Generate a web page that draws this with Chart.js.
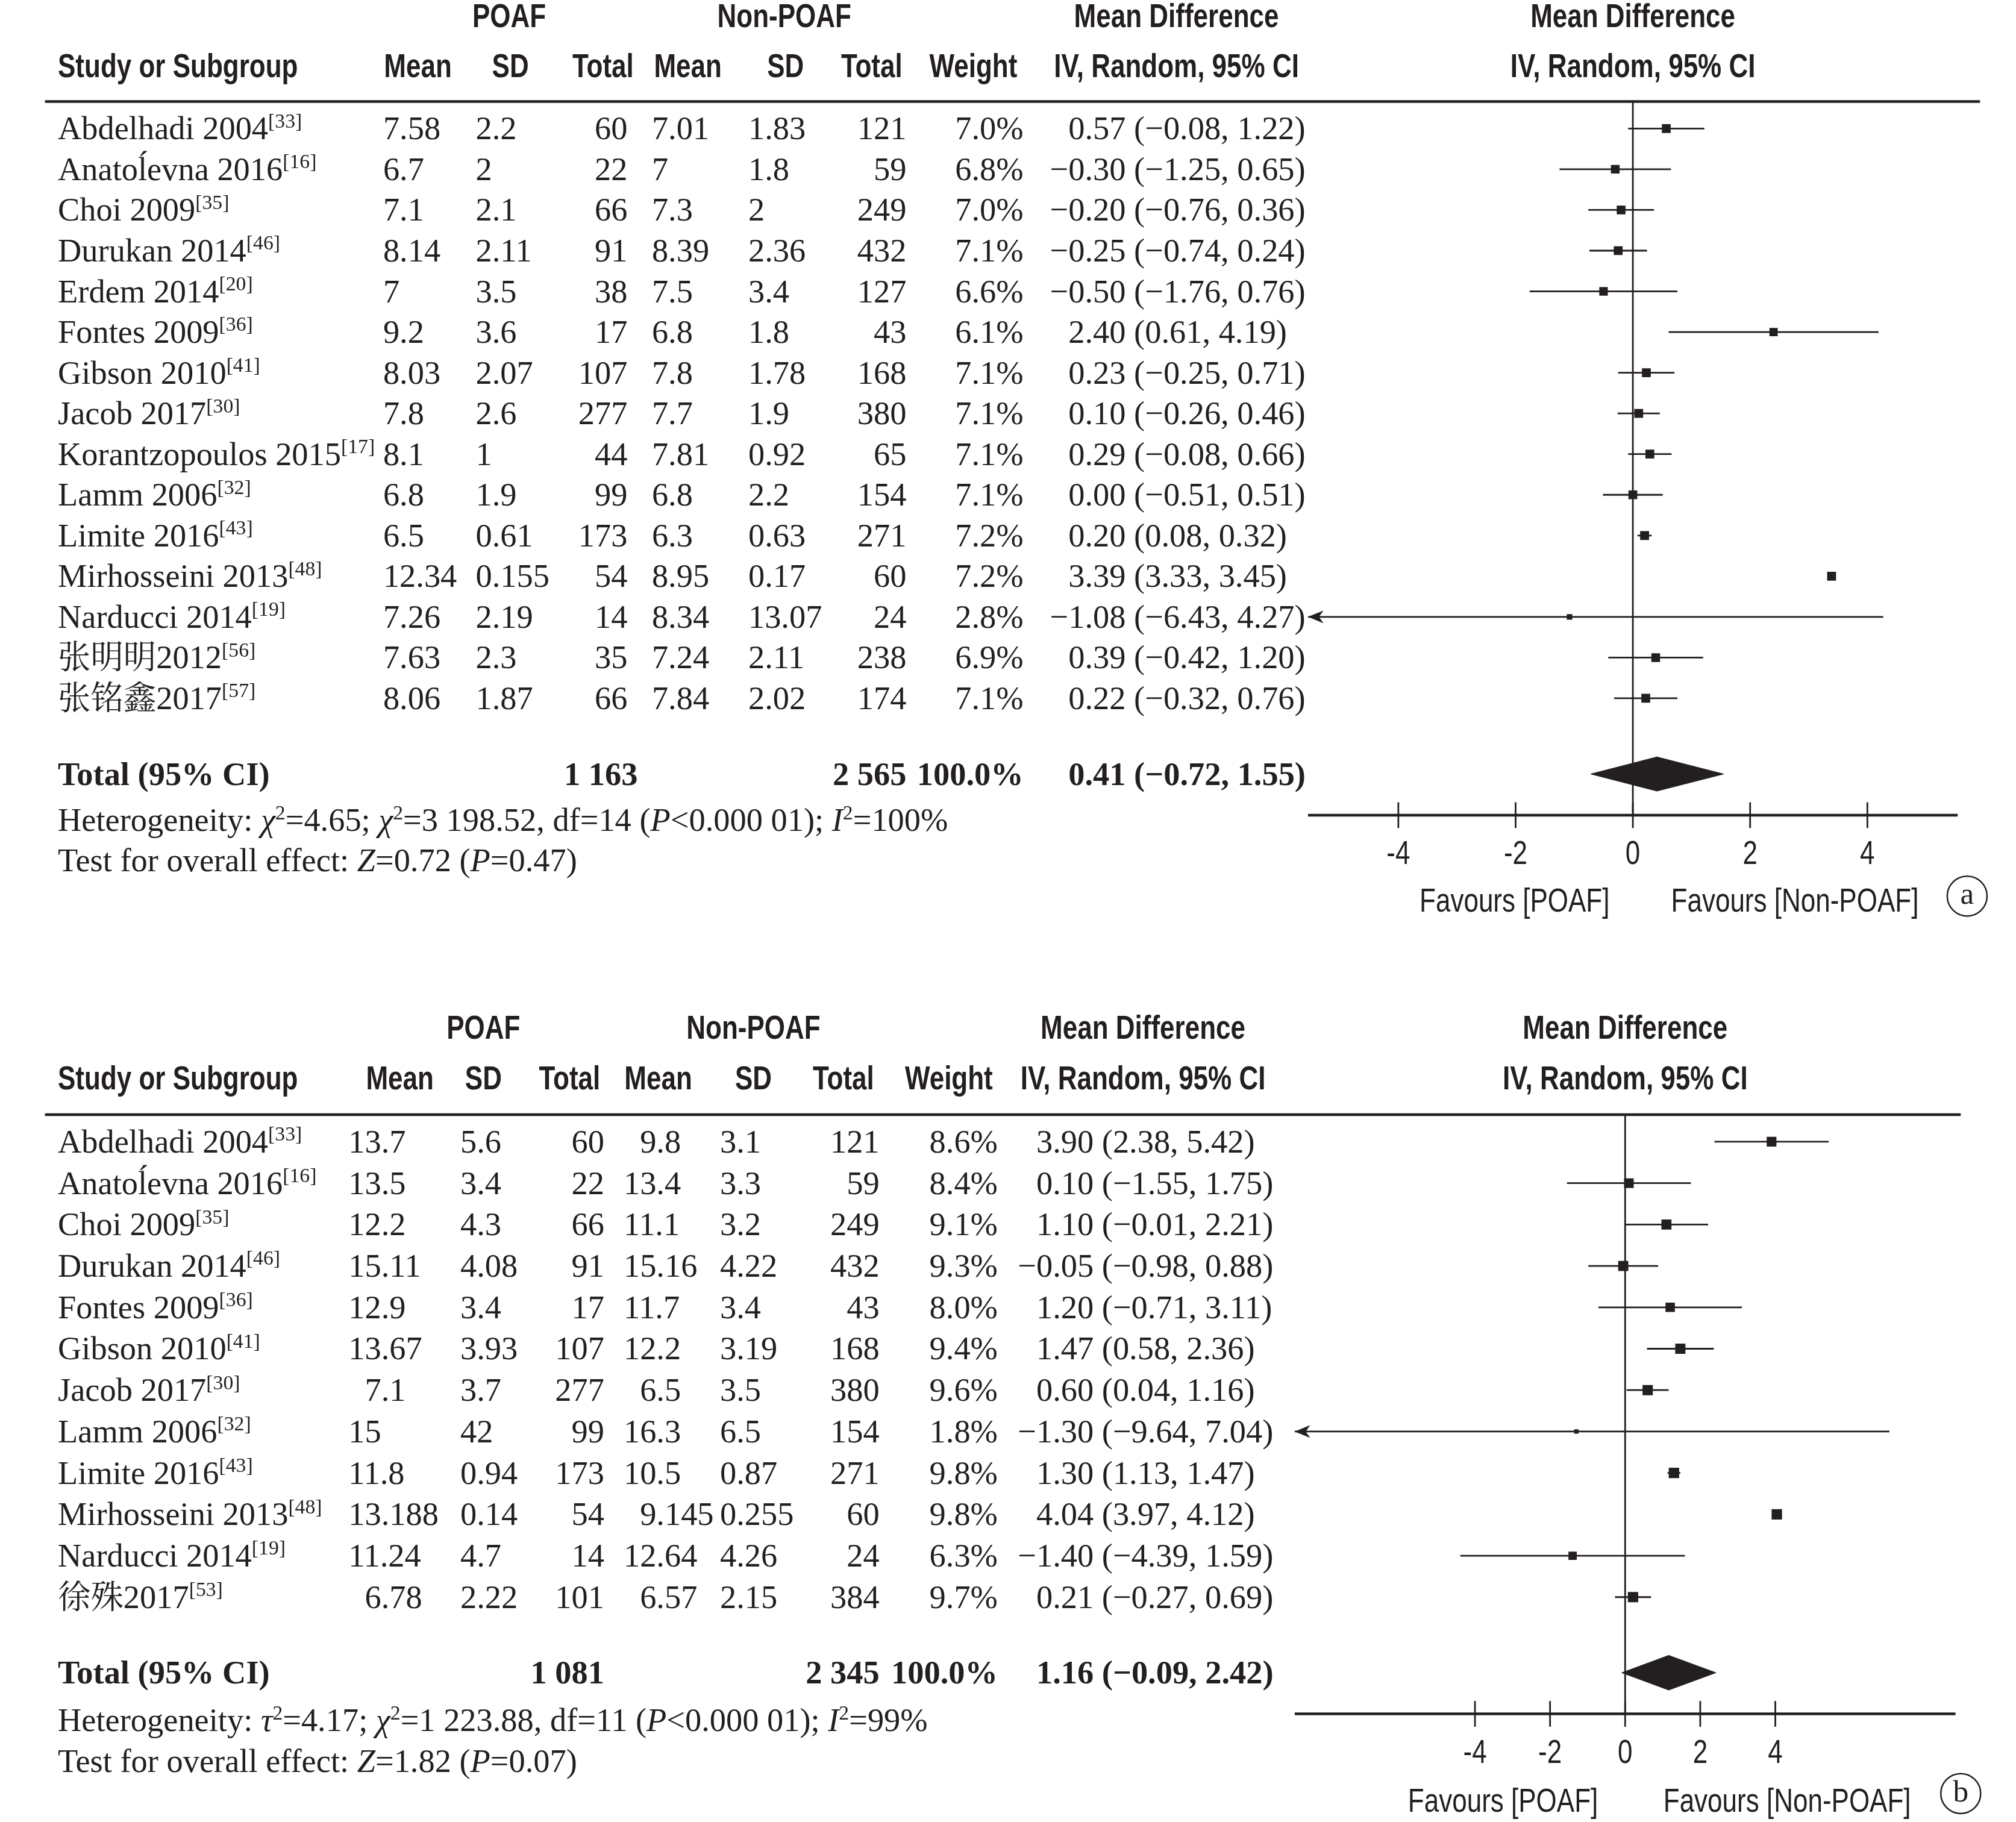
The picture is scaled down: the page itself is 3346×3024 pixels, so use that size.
<!DOCTYPE html>
<html>
<head>
<meta charset="utf-8">
<script src="https://cdn.jsdelivr.net/npm/chart.js@4/dist/chart.umd.min.js"></script>
<style>
  body { margin: 0; background: #fff; }
  #wrap { position: relative; width: 3346px; height: 3024px; }
  canvas { position: absolute; left: 0; top: 0; }
</style>
</head>
<body>
<div id="wrap">
  <canvas id="chartA" width="3346" height="3024"></canvas>
  <canvas id="chartB" width="3346" height="3024"></canvas>
</div>
<script>
// ---------- panel a: data ----------
const studiesA = ["Abdelhadi 2004", "Anatoĺevna 2016", "Choi 2009", "Durukan 2014", "Erdem 2014", "Fontes 2009",
  "Gibson 2010", "Jacob 2017", "Korantzopoulos 2015", "Lamm 2006", "Limite 2016", "Mirhosseini 2013",
  "Narducci 2014", "张明明2012", "张铭鑫2017"];
const refsA = [33, 16, 35, 46, 20, 36, 41, 30, 17, 32, 43, 48, 19, 56, 57];
const poafMeanA = [7.58, 6.7, 7.1, 8.14, 7, 9.2, 8.03, 7.8, 8.1, 6.8, 6.5, 12.34, 7.26, 7.63, 8.06];
const poafSdA = [2.2, 2, 2.1, 2.11, 3.5, 3.6, 2.07, 2.6, 1, 1.9, 0.61, 0.155, 2.19, 2.3, 1.87];
const poafTotalA = [60, 22, 66, 91, 38, 17, 107, 277, 44, 99, 173, 54, 14, 35, 66];
const nonMeanA = [7.01, 7, 7.3, 8.39, 7.5, 6.8, 7.8, 7.7, 7.81, 6.8, 6.3, 8.95, 8.34, 7.24, 7.84];
const nonSdA = [1.83, 1.8, 2, 2.36, 3.4, 1.8, 1.78, 1.9, 0.92, 2.2, 0.63, 0.17, 13.07, 2.11, 2.02];
const nonTotalA = [121, 59, 249, 432, 127, 43, 168, 380, 65, 154, 271, 60, 24, 238, 174];
const weightA = [7.0, 6.8, 7.0, 7.1, 6.6, 6.1, 7.1, 7.1, 7.1, 7.1, 7.2, 7.2, 2.8, 6.9, 7.1];
const mdA = [0.57, -0.30, -0.20, -0.25, -0.50, 2.40, 0.23, 0.10, 0.29, 0.00, 0.20, 3.39, -1.08, 0.39, 0.22];
const ciLowA = [-0.08, -1.25, -0.76, -0.74, -1.76, 0.61, -0.25, -0.26, -0.08, -0.51, 0.08, 3.33, -6.43, -0.42, -0.32];
const ciHighA = [1.22, 0.65, 0.36, 0.24, 0.76, 4.19, 0.71, 0.46, 0.66, 0.51, 0.32, 3.45, 4.27, 1.20, 0.76];
const totalPoafA = 1163;
const totalNonA = 2565;
const totalMdA = [0.41, -0.72, 1.55]; // estimate, low, high

// ---------- panel b: data ----------
const studiesB = ["Abdelhadi 2004", "Anatoĺevna 2016", "Choi 2009", "Durukan 2014", "Fontes 2009", "Gibson 2010",
  "Jacob 2017", "Lamm 2006", "Limite 2016", "Mirhosseini 2013", "Narducci 2014", "徐殊2017"];
const refsB = [33, 16, 35, 46, 36, 41, 30, 32, 43, 48, 19, 53];
const poafMeanB = [13.7, 13.5, 12.2, 15.11, 12.9, 13.67, 7.1, 15, 11.8, 13.188, 11.24, 6.78];
const poafSdB = [5.6, 3.4, 4.3, 4.08, 3.4, 3.93, 3.7, 42, 0.94, 0.14, 4.7, 2.22];
const poafTotalB = [60, 22, 66, 91, 17, 107, 277, 99, 173, 54, 14, 101];
const nonMeanB = [9.8, 13.4, 11.1, 15.16, 11.7, 12.2, 6.5, 16.3, 10.5, 9.145, 12.64, 6.57];
const nonSdB = [3.1, 3.3, 3.2, 4.22, 3.4, 3.19, 3.5, 6.5, 0.87, 0.255, 4.26, 2.15];
const nonTotalB = [121, 59, 249, 432, 43, 168, 380, 154, 271, 60, 24, 384];
const weightB = [8.6, 8.4, 9.1, 9.3, 8.0, 9.4, 9.6, 1.8, 9.8, 9.8, 6.3, 9.7];
const mdB = [3.90, 0.10, 1.10, -0.05, 1.20, 1.47, 0.60, -1.30, 1.30, 4.04, -1.40, 0.21];
const ciLowB = [2.38, -1.55, -0.01, -0.98, -0.71, 0.58, 0.04, -9.64, 1.13, 3.97, -4.39, -0.27];
const ciHighB = [5.42, 1.75, 2.21, 0.88, 3.11, 2.36, 1.16, 7.04, 1.47, 4.12, 1.59, 0.69];
const totalPoafB = 1081;
const totalNonB = 2345;
const totalMdB = [1.16, -0.09, 2.42];

const xTicks = [-4, -2, 0, 2, 4];

// ---------- drawing helpers ----------
const K = 3346 / 1568;          // layout below is measured on a 1568-wide copy
const INK = "#231f20";
const SERIF = '"Liberation Serif", "Noto Serif CJK SC", "Noto Sans CJK SC", serif';
const SANS = '"Liberation Sans", Arial, sans-serif';
const F = 25.5 * K;             // body text size

function px(v) { return v * K; }
function minus(s) { return s.replace(/-/g, "\u2212"); }
function fmtCI(m, lo, hi) { return minus(m.toFixed(2) + " (" + lo.toFixed(2) + ", " + hi.toFixed(2) + ")"); }
function fmtN(n) { return String(n).replace(/\B(?=(\d{3})+(?!\d))/g, " "); }

function sans(ctx, s, x, y, bold, align) {
  ctx.save();
  ctx.translate(x, y);
  ctx.scale(0.8, 1);
  ctx.font = (bold ? "bold " : "") + Math.round(26 * K) + "px " + SANS;
  ctx.textAlign = align || "center";
  ctx.textBaseline = "middle";
  ctx.fillStyle = INK;
  ctx.fillText(s, 0, 0);
  ctx.restore();
}

// segments: [text, style] style n=normal i=italic b=bold s=superscript
function rich(ctx, segs, x, base) {
  let cx = x;
  ctx.textAlign = "left";
  ctx.textBaseline = "alphabetic";
  ctx.fillStyle = INK;
  segs.forEach(([t, st]) => {
    const sz = st === "s" ? F * 0.62 : F;
    ctx.font = (st === "i" ? "italic " : st === "b" ? "bold " : "") + sz + "px " + SERIF;
    ctx.fillText(t, cx, base + (st === "s" ? -F * 0.36 : 0));
    cx += ctx.measureText(t).width;
  });
  return cx;
}

function cell(ctx, s, x, base, align, bold) {
  ctx.font = (bold ? "bold " : "") + F + "px " + SERIF;
  ctx.textBaseline = "alphabetic";
  ctx.fillStyle = INK;
  if (align === "right") {
    ctx.textAlign = "right";
    ctx.fillText(s, x, base);
    return;
  }
  ctx.textAlign = "left";
  if (align === "dec") {
    const intLen = s.split(".")[0].length;
    x += (2 - intLen) * ctx.measureText("0").width;
  } else if (align === "ci" && s[0] === "\u2212") {
    x -= ctx.measureText("\u2212").width;
  }
  ctx.fillText(s, x, base);
}

function forestPlugin(L, D) {
  return {
    id: "forest" + L.letter,
    beforeDatasetsDraw(chart) {
      const ctx = chart.ctx, xs = chart.scales.x, ca = chart.chartArea;
      ctx.save();
      ctx.strokeStyle = INK;
      // heavy rule under the header
      ctx.lineWidth = 4.5;
      ctx.beginPath();
      ctx.moveTo(px(L.lineL), ca.top);
      ctx.lineTo(px(L.lineR), ca.top);
      ctx.stroke();
      // x axis
      ctx.beginPath();
      ctx.moveTo(ca.left, ca.bottom);
      ctx.lineTo(ca.right, ca.bottom);
      ctx.stroke();
      // line of no effect
      ctx.lineWidth = 2.8;
      const x0 = xs.getPixelForValue(0);
      ctx.beginPath();
      ctx.moveTo(x0, ca.top);
      ctx.lineTo(x0, ca.bottom);
      ctx.stroke();
      // ticks crossing the axis + labels
      xTicks.forEach(t => {
        const x = xs.getPixelForValue(t);
        ctx.beginPath();
        ctx.moveTo(x, ca.bottom - px(10));
        ctx.lineTo(x, ca.bottom + px(10));
        ctx.stroke();
        sans(ctx, String(t), x, px(L.tickY), false, "center");
      });
      ctx.restore();
    },
    afterDatasetsDraw(chart) {
      const ctx = chart.ctx, xs = chart.scales.x, ys = chart.scales.y, ca = chart.chartArea;
      ctx.save();
      // arrows for intervals running off the scale
      ctx.fillStyle = INK;
      D.lo.forEach((lo, i) => {
        if (lo < xs.min) {
          const y = ys.getPixelForValue(i), x = ca.left;
          ctx.beginPath();
          ctx.moveTo(x, y);
          ctx.lineTo(x + px(12), y - px(5));
          ctx.lineTo(x + px(8.5), y);
          ctx.lineTo(x + px(12), y + px(5));
          ctx.closePath();
          ctx.fill();
        }
      });
      // headers
      L.head1.forEach(([s, x]) => sans(ctx, s, px(x), px(L.h1y), true, "center"));
      sans(ctx, "Study or Subgroup", px(45), px(L.h2y), true, "left");
      L.head2.forEach(([s, x]) => sans(ctx, s, px(x), px(L.h2y), true, "center"));
      // study rows
      const C = L.cols;
      D.studies.forEach((name, i) => {
        const base = ys.getPixelForValue(i) + 0.33 * F;
        rich(ctx, [[name, "n"], ["[" + D.refs[i] + "]", "s"]], px(45), base);
        cell(ctx, String(D.pm[i]), px(C.pm[0]), base, C.pm[1]);
        cell(ctx, String(D.ps[i]), px(C.ps[0]), base, C.ps[1]);
        cell(ctx, String(D.pt[i]), px(C.pt[0]), base, "right");
        cell(ctx, String(D.nm[i]), px(C.nm[0]), base, C.nm[1]);
        cell(ctx, String(D.ns[i]), px(C.ns[0]), base, C.ns[1]);
        cell(ctx, String(D.nt[i]), px(C.nt[0]), base, "right");
        cell(ctx, D.w[i].toFixed(1) + "%", px(C.w[0]), base, "right");
        cell(ctx, fmtCI(D.md[i], D.lo[i], D.hi[i]), px(C.ci[0]), base, "ci");
      });
      // total row
      const tb = ys.getPixelForValue(L.totalRow) + 0.33 * F;
      rich(ctx, [["Total (95% CI)", "b"]], px(45), tb);
      cell(ctx, fmtN(D.tp), px(C.ptT), tb, "right", true);
      cell(ctx, fmtN(D.tn), px(C.nt[0]), tb, "right", true);
      cell(ctx, "100.0%", px(C.w[0]), tb, "right", true);
      cell(ctx, fmtCI(D.tmd[0], D.tmd[1], D.tmd[2]), px(C.ci[0]), tb, "ci", true);
      // heterogeneity / overall effect
      rich(ctx, L.het, px(45), px(L.hetY) + 0.33 * F);
      rich(ctx, L.test, px(45), px(L.testY) + 0.33 * F);
      // favours labels
      sans(ctx, "Favours [POAF]", px(L.favL), px(L.favY), false, "center");
      sans(ctx, "Favours [Non-POAF]", px(L.favR), px(L.favY), false, "center");
      // panel letter
      ctx.strokeStyle = INK;
      ctx.lineWidth = 2.5;
      ctx.beginPath();
      ctx.arc(px(L.circle[0]), px(L.circle[1]), px(15.5), 0, Math.PI * 2);
      ctx.stroke();
      ctx.font = px(24) + "px " + SERIF;
      ctx.textAlign = "center";
      ctx.textBaseline = "alphabetic";
      ctx.fillText(L.letter, px(L.circle[0]), px(L.circle[1]) + px(6));
      ctx.restore();
    }
  };
}

function makeForest(id, L, D) {
  const rowMin = (L.yTop - L.rowY0) / L.rowH;
  const rowMax = (L.yAxis - L.rowY0) / L.rowH;
  L.totalRow = (L.yTotal - L.rowY0) / L.rowH;
  const xL = L.x0 - L.range * L.unit, xR = L.x0 + L.range * L.unit;

  const datasets = D.studies.map((s, i) => ({
    data: [{ x: D.lo[i], y: i }, { x: D.hi[i], y: i }],
    showLine: true, borderColor: INK, borderWidth: 2.8, pointRadius: 0
  }));
  datasets.push({
    data: D.md.map((m, i) => ({ x: m, y: i })),
    pointStyle: "rect", pointRadius: D.w.map(w => 3.9 * Math.sqrt(w)),
    backgroundColor: INK, borderWidth: 0, showLine: false
  });
  const T = L.totalRow, h = 0.42;
  datasets.push({
    data: [{ x: D.tmd[1], y: T }, { x: D.tmd[0], y: T - h }, { x: D.tmd[2], y: T },
           { x: D.tmd[0], y: T + h }, { x: D.tmd[1], y: T }],
    showLine: true, fill: "shape", backgroundColor: INK, borderColor: INK,
    borderWidth: 1, pointRadius: 0, tension: 0
  });

  return new Chart(document.getElementById(id), {
    type: "scatter",
    data: { datasets },
    options: {
      responsive: false,
      animation: false,
      devicePixelRatio: 1,
      events: [],
      layout: { padding: { left: px(xL), right: 3346 - px(xR), top: px(L.yTop), bottom: 3024 - px(L.yAxis) } },
      plugins: { legend: { display: false }, tooltip: { enabled: false } },
      scales: {
        x: { type: "linear", min: -L.range, max: L.range, display: false },
        y: { type: "linear", min: rowMin, max: rowMax, reverse: true, display: false }
      }
    },
    plugins: [forestPlugin(L, D)]
  });
}

// ---------- panel a ----------
makeForest("chartA", {
  letter: "a", rowY0: 100, rowH: 31.65, yTop: 79, yAxis: 634, yTotal: 602,
  x0: 1270, unit: 45.6, range: 5.54, lineL: 35, lineR: 1540,
  h1y: 14, h2y: 53, hetY: 638, testY: 669, tickY: 665, favY: 702, favL: 1178, favR: 1396,
  circle: [1530, 697],
  head1: [["POAF", 396], ["Non-POAF", 610], ["Mean Difference", 915], ["Mean Difference", 1270]],
  head2: [["Mean", 325], ["SD", 397], ["Total", 469], ["Mean", 535], ["SD", 611], ["Total", 678],
          ["Weight", 757], ["IV, Random, 95% CI", 915], ["IV, Random, 95% CI", 1270]],
  cols: { pm: [298, "left"], ps: [370, "left"], pt: [488], ptT: 496, nm: [507, "left"], ns: [582, "left"],
          nt: [705], w: [796], ci: [831] },
  het: [["Heterogeneity: ", "n"], ["\u03c7", "i"], ["2", "s"], ["=4.65; ", "n"], ["\u03c7", "i"], ["2", "s"],
        ["=3 198.52, df=14 (", "n"], ["P", "i"], ["<0.000 01); ", "n"], ["I", "i"], ["2", "s"], ["=100%", "n"]],
  test: [["Test for overall effect: ", "n"], ["Z", "i"], ["=0.72 (", "n"], ["P", "i"], ["=0.47)", "n"]]
}, {
  studies: studiesA, refs: refsA, pm: poafMeanA, ps: poafSdA, pt: poafTotalA,
  nm: nonMeanA, ns: nonSdA, nt: nonTotalA, w: weightA, md: mdA, lo: ciLowA, hi: ciHighA,
  tp: totalPoafA, tn: totalNonA, tmd: totalMdA
});

// ---------- panel b ----------
makeForest("chartB", {
  letter: "b", rowY0: 888, rowH: 32.2, yTop: 867, yAxis: 1333, yTotal: 1301,
  x0: 1264, unit: 29.2, range: 8.8, lineL: 35, lineR: 1525,
  h1y: 801, h2y: 840, hetY: 1338, testY: 1370, tickY: 1364, favY: 1402, favL: 1169, favR: 1390,
  circle: [1525, 1395],
  head1: [["POAF", 376], ["Non-POAF", 586], ["Mean Difference", 889], ["Mean Difference", 1264]],
  head2: [["Mean", 311], ["SD", 376], ["Total", 443], ["Mean", 512], ["SD", 586], ["Total", 656],
          ["Weight", 738], ["IV, Random, 95% CI", 889], ["IV, Random, 95% CI", 1264]],
  cols: { pm: [271, "dec"], ps: [358, "left"], pt: [470], ptT: 470, nm: [485, "dec"], ns: [560, "left"],
          nt: [684], w: [776], ci: [806] },
  het: [["Heterogeneity: ", "n"], ["\u03c4", "i"], ["2", "s"], ["=4.17; ", "n"], ["\u03c7", "i"], ["2", "s"],
        ["=1 223.88, df=11 (", "n"], ["P", "i"], ["<0.000 01); ", "n"], ["I", "i"], ["2", "s"], ["=99%", "n"]],
  test: [["Test for overall effect: ", "n"], ["Z", "i"], ["=1.82 (", "n"], ["P", "i"], ["=0.07)", "n"]]
}, {
  studies: studiesB, refs: refsB, pm: poafMeanB, ps: poafSdB, pt: poafTotalB,
  nm: nonMeanB, ns: nonSdB, nt: nonTotalB, w: weightB, md: mdB, lo: ciLowB, hi: ciHighB,
  tp: totalPoafB, tn: totalNonB, tmd: totalMdB
});
</script>
</body>
</html>
